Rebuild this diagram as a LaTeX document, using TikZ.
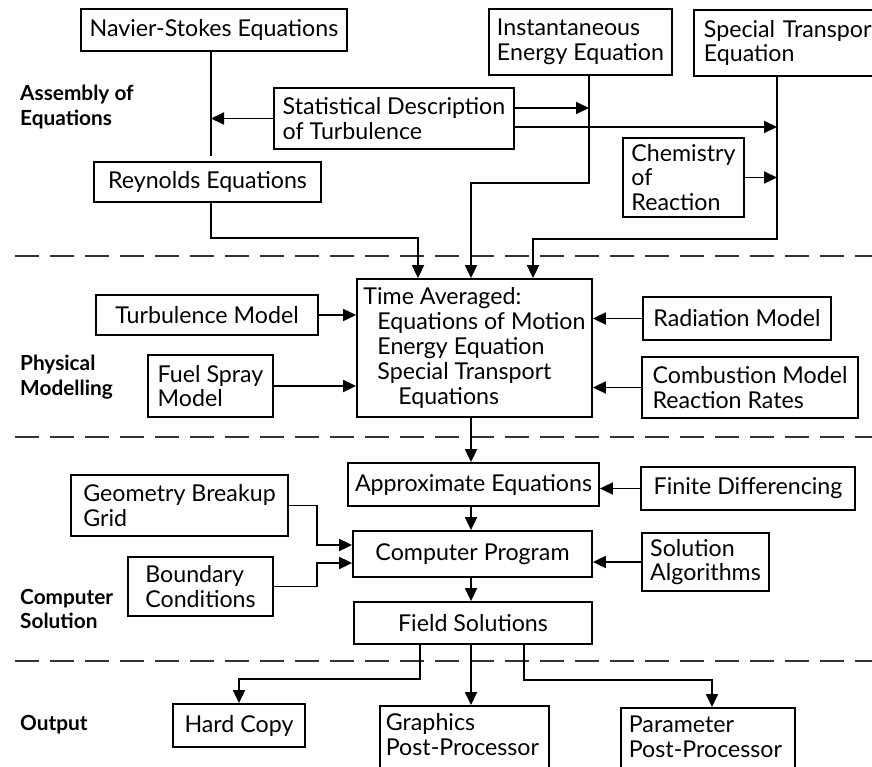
\documentclass[tikz,border=0pt]{standalone}
\usepackage{fontspec}
\setmainfont{Lato}
\usetikzlibrary{arrows.meta,calc}
\tikzset{
  box/.style={draw, line width=1.8pt, inner sep=3pt, align=left, font=\fontsize{23.2}{24.5}\selectfont},
  lbl/.style={anchor=west, align=left, inner sep=0pt, font=\fontsize{20.8}{24.5}\selectfont\bfseries},
  conn/.style={line width=1.8pt},
  arr/.style={conn, -{Triangle[length=13pt,width=12pt]}},
  sep/.style={line width=1.5pt, dash pattern=on 24pt off 11pt, black!80},
}
\begin{document}
\begin{tikzpicture}[x=1pt,y=-1pt]
\useasboundingbox (0,0) rectangle (872,767);
% separators
\draw[sep] (15,256) -- (872,256);
\draw[sep] (15,437) -- (872,437);
\draw[sep] (15,661) -- (872,661);
% labels
\node[lbl] (l1) at (20,107) {Assembly of\\Equations};
\node[lbl] (l2) at (20,377) {Physical\\Modelling};
\node[lbl] (l3) at (20,609) {Computer\\Solution};
\node[lbl] (l4) at (20,725) {Output};
% boxes
\node[box, minimum width=266, minimum height=42] (ns) at (214,30) {Navier-Stokes Equations};
\node[box, minimum width=183, minimum height=66] (inst) at (580.5,42) {Instantaneous\\Energy Equation};
\node[box, anchor=west, text width=200, inner xsep=10, minimum height=66] (spt) at (693,43) {Special Transport\\Equation};
\node[box, minimum width=240, minimum height=61] (stat) at (394,118.5) {Statistical Description\\of Turbulence};
\node[box, minimum width=121, minimum height=79] (chem) at (683.5,177.5) {Chemistry\\of\\Reaction};
\node[box, minimum width=227, minimum height=40] (rey) at (207.5,182) {Reynolds Equations};
\node[box, minimum width=235, minimum height=138, font=\fontsize{23.2}{25}\selectfont] (tam) at (474.5,348) {Time Averaged:\\\hspace*{14pt}Equations of Motion\\\hspace*{14pt}Energy Equation\\\hspace*{14pt}Special Transport\\\hspace*{35pt}Equations};
\node[box, minimum width=222, minimum height=40] (turb) at (207,315) {Turbulence Model};
\node[box, minimum width=125, minimum height=62] (fuel) at (210.5,386) {Fuel Spray\\Model};
\node[box, minimum width=188, minimum height=43] (rad) at (737,318.5) {Radiation Model};
\node[box, minimum width=216, minimum height=61] (comb) at (750,387.5) {Combustion Model\\Reaction Rates};
\node[box, minimum width=251, minimum height=43] (appr) at (473.5,484.5) {Approximate Equations};
\node[box, minimum width=214, minimum height=43] (fd) at (748,488.5) {Finite Differencing};
\node[box, minimum width=217, minimum height=61] (geo) at (179.5,505.5) {Geometry Breakup\\Grid};
\node[box, minimum width=239, minimum height=46] (cp) at (472.5,554) {Computer Program};
\node[box, minimum width=145, minimum height=59] (bc) at (200.5,586.5) {Boundary\\Conditions};
\node[box, minimum width=127, minimum height=58] (sa) at (705.5,562) {Solution\\Algorithms};
\node[box, minimum width=238, minimum height=42] (fs) at (473,623) {Field Solutions};
\node[box, minimum width=132, minimum height=43] (hc) at (239,725.5) {Hard Copy};
\node[box, anchor=north west, text width=157, inner xsep=6, inner ysep=8] (gp) at (379,705) {Graphics\\Post-Processor\\~};
\node[box, anchor=north west, text width=158, inner xsep=8, inner ysep=8] (pp) at (620,707) {Parameter\\Post-Processor\\~};
% helper x positions
\coordinate (v1) at (211,0);
\coordinate (vi) at (589,0);
\coordinate (vs) at (777,0);
\coordinate (ta0) at (418,0);
\coordinate (ta1) at (471,0);
\coordinate (ta2) at (533,0);
\coordinate (gx) at (317,0);
\coordinate (hx) at (420,0);
\coordinate (qx) at (524,0);
\coordinate (px) at (712,0);
\coordinate (cpin1) at ([yshift=9pt]cp.west);
\coordinate (cpin2) at ([yshift=-9pt]cp.west);
% connectors: assembly
\draw[conn] (ns.south -| v1) -- ([yshift=5pt]rey.north -| v1);
\draw[arr] (stat.west) -- (stat.west -| v1);
\draw[arr] (rey.south -| v1) -- ++(0,35) -| (tam.north -| ta0);
\draw[arr] ([yshift=10.5pt]stat.east) -- ([yshift=10.5pt]stat.east -| vi);
\draw[arr] ([yshift=-8.5pt]stat.east) -- ([yshift=-8.5pt]stat.east -| vs);
\draw[arr] (chem.east) -- (chem.east -| vs);
\draw[arr] (inst.south -| vi) -- ++(0,107) -| (tam.north -| ta1);
\draw[arr] (spt.south -| vs) -- ++(0,162) -| (tam.north -| ta2);
% physical modelling
\draw[arr] (turb.east) -- (turb.east -| tam.west);
\draw[arr] (fuel.east) -- (fuel.east -| tam.west);
\draw[arr] (rad.west) -- (rad.west -| tam.east);
\draw[arr] (comb.west) -- (comb.west -| tam.east);
% computer solution
\draw[arr] (tam.south -| ta1) -- (appr.north -| ta1);
\draw[arr] (fd.west) -- (fd.west -| appr.east);
\draw[arr] (appr.south -| ta1) -- (cp.north -| ta1);
\draw[arr] (geo.east) -| (gx |- cpin1) -- (cpin1);
\draw[arr] (bc.east) -| (gx |- cpin2) -- (cpin2);
\draw[arr] (sa.west) -- (sa.west -| cp.east);
\draw[arr] (cp.south -| ta1) -- (fs.north -| ta1);
% output
\draw[arr] (fs.south -| hx) -- ++(0,34) -| (hc.north);
\draw[arr] (fs.south -| ta1) -- (gp.north -| ta1);
\draw[arr] (fs.south -| qx) -- ++(0,35) -| (pp.north -| px);
\end{tikzpicture}
\end{document}
